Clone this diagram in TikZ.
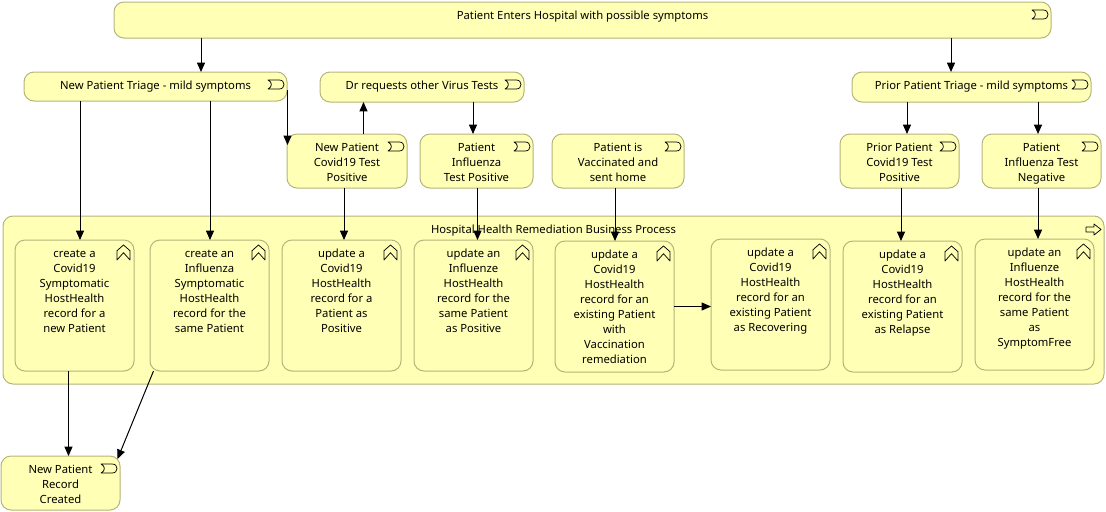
\documentclass[tikz,border=0pt]{standalone}
\usepackage{fontspec}
\setmainfont{Noto Sans}
\usetikzlibrary{arrows.meta,calc}
\definecolor{archfill}{HTML}{FFFFB5}
\definecolor{archline}{HTML}{B5B57A}
\tikzset{
  archbox/.style={draw=archline,fill=archfill,line width=0.75pt,rounded corners=7.5pt,inner sep=0pt,outer sep=0pt,anchor=north west,font=\fontsize{8.45}{11.25}\selectfont},
  arr/.style={draw=black,line width=0.75pt,-{Triangle[length=7pt,width=6pt]}},
  iconline/.style={draw=black,line width=0.55pt,line join=round}
}
\newcommand{\archnode}[6]{%
  \pgfmathsetlengthmacro{\bw}{(#4-#2)*0.75pt}%
  \pgfmathsetlengthmacro{\bh}{(#5-#3)*0.75pt}%
  \node[archbox] (#1) at (#2,#3) {\parbox[c][\bh][t]{\bw}{\centering\rule{0pt}{12.75pt}#6\par}};%
}
\newcommand{\evicon}[1]{%
  \begin{scope}[shift={(#1.north east)}]
    \draw[iconline] (-19,8) -- (-8,8) .. controls (-4.5,8) and (-3,10) .. (-3,12.5) .. controls (-3,15) and (-4.5,17) .. (-8,17) -- (-19,17) .. controls (-14.5,15) and (-14.5,10) .. (-19,8) -- cycle;
  \end{scope}}
\newcommand{\procicon}[1]{%
  \begin{scope}[shift={(#1.north east)}]
    \draw[iconline] (-17,10.7) -- (-10.5,5) -- (-4,10.7) -- (-4,20) -- (-10.5,12.7) -- (-17,20) -- cycle;
  \end{scope}}
\begin{document}
\begin{tikzpicture}[x=0.75pt,y=-0.75pt]
\useasboundingbox (0,0) rectangle (1106,511);
\archnode{top}{114}{2}{1051}{38}{Patient Enters Hospital with possible symptoms}
\archnode{triage}{24}{72}{287}{101}{New Patient Triage - mild symptoms}
\archnode{dr}{320}{72}{524}{102}{Dr requests other Virus Tests}
\archnode{prior}{852}{72}{1091}{102}{Prior Patient Triage - mild symptoms}
\archnode{newcov}{287}{134}{407}{188}{New Patient\\Covid19 Test\\Positive}
\archnode{flupos}{420}{134}{533}{188}{Patient\\Influenza\\Test Positive}
\archnode{vacc}{552}{134}{684}{188}{Patient is\\Vaccinated and\\sent home}
\archnode{priorcov}{840}{134}{959}{188}{Prior Patient\\Covid19 Test\\Positive}
\archnode{fluneg}{982}{134}{1101}{188}{Patient\\Influenza Test\\Negative}
\archnode{group}{3}{216}{1104}{384}{Hospital Health Remediation Business Process}
\archnode{pa}{15}{240}{134}{371}{create a\\Covid19\\Symptomatic\\HostHealth\\record for a\\new Patient}
\archnode{pb}{150}{240}{269}{371}{create an\\Influenza\\Symptomatic\\HostHealth\\record for the\\same Patient}
\archnode{pc}{282}{240}{401}{371}{update a\\Covid19\\HostHealth\\record for a\\Patient as\\Positive}
\archnode{pd}{414}{240}{533}{371}{update an\\Influenze\\HostHealth\\record for the\\same Patient\\as Positive}
\archnode{pe}{555}{241}{674}{372}{update a\\Covid19\\HostHealth\\record for an\\existing Patient\\with\\Vaccination\\remediation}
\archnode{pf}{711}{239}{830}{370}{update a\\Covid19\\HostHealth\\record for an\\existing Patient\\as Recovering}
\archnode{pg}{843}{241}{962}{372}{update a\\Covid19\\HostHealth\\record for an\\existing Patient\\as Relapse}
\archnode{ph}{975}{239}{1094}{370}{update an\\Influenze\\HostHealth\\record for the\\same Patient\\as\\SymptomFree}
\archnode{rec}{1}{456}{120}{510}{New Patient\\Record\\Created}
\foreach \n in {top,triage,dr,prior,newcov,flupos,vacc,priorcov,fluneg,rec}{\evicon{\n}}
\foreach \n in {pa,pb,pc,pd,pe,pf,pg,ph}{\procicon{\n}}
\begin{scope}[shift={(group.north east)}]
  \draw[iconline] (-18,11) -- (-10,11) -- (-10,8) -- (-3,13.5) -- (-10,19) -- (-10,16) -- (-18,16) -- cycle;
\end{scope}
\draw[arr] ($(top.south west)+(87,0)$) -- ($(triage.north west)+(177,0)$);
\draw[arr] ($(top.south west)+(837,0)$) -- ($(prior.north west)+(99,0)$);
\draw[arr] ($(triage.north east)+(0.5,18)$) -- ($(newcov.north west)+(0.5,11)$);
\draw[arr] ($(triage.south west)+(56,0)$) -- ($(pa.north west)+(65,0)$);
\draw[arr] ($(triage.south west)+(186,0)$) -- ($(pb.north west)+(60,0)$);
\draw[arr] ($(newcov.north west)+(76.5,0)$) -- ($(dr.south west)+(43.5,0)$);
\draw[arr] ($(dr.south west)+(153,0)$) -- ($(flupos.north west)+(53,0)$);
\draw[arr] ($(newcov.south west)+(57,0)$) -- ($(pc.north west)+(62,0)$);
\draw[arr] ($(flupos.south west)+(57.5,0)$) -- ($(pd.north west)+(63.5,0)$);
\draw[arr] ($(vacc.south west)+(63,0)$) -- ($(pe.north west)+(60,0)$);
\draw[arr] ($(prior.south west)+(55,0)$) -- ($(priorcov.north west)+(67,0)$);
\draw[arr] ($(prior.south west)+(186,0)$) -- ($(fluneg.north west)+(56,0)$);
\draw[arr] ($(priorcov.south west)+(61,0)$) -- ($(pg.north west)+(58,0)$);
\draw[arr] ($(fluneg.south west)+(56,0)$) -- ($(ph.north west)+(63,0)$);
\draw[arr] ($(pe.north east)+(0,65.5)$) -- ($(pf.north west)+(0,67.5)$);
\draw[arr] ($(pa.south west)+(53.5,0)$) -- ($(rec.north west)+(67.5,0)$);
\draw[arr] ($(pb.south west)+(3.5,0)$) -- ($(rec.north east)+(-2.5,3)$);
\end{tikzpicture}
\end{document}
